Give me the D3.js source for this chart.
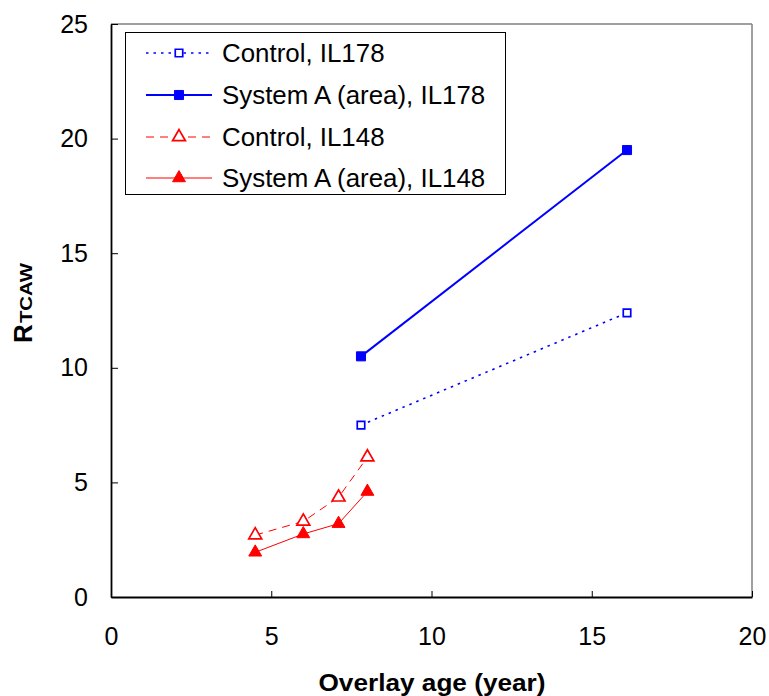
<!DOCTYPE html>
<html>
<head>
<meta charset="utf-8">
<script src="https://cdn.jsdelivr.net/npm/d3@7/dist/d3.min.js"></script>
<style>
  html, body { margin: 0; padding: 0; background: #fff; }
  svg { display: block; font-family: "Liberation Sans", Arial, sans-serif; }
</style>
</head>
<body>
<svg id="chart" width="769" height="696"></svg>
<script>
// Overlay age (years) and R_TCAW values per series
const ageIL178 = [7.8, 16.1];
const controlIL178 = [7.5, 12.4];
const systemAIL178 = [10.5, 19.5];

const ageIL148 = [4.5, 6.0, 7.1, 8.0];
const controlIL148 = [2.7, 3.3, 4.35, 6.1];
const systemAIL148 = [1.95, 2.75, 3.2, 4.6];

const xTicks = [0, 5, 10, 15, 20];
const yTicks = [0, 5, 10, 15, 20, 25];

const seriesNames = ["Control, IL178", "System A (area), IL178", "Control, IL148", "System A (area), IL148"];

const series = [
  { name: seriesNames[0], x: ageIL178, y: controlIL178, color: "#0000ff", dash: "2.5,5", width: 1.6, shape: "square", filled: false },
  { name: seriesNames[1], x: ageIL178, y: systemAIL178, color: "#0000ff", dash: null, width: 2, shape: "square", filled: true },
  { name: seriesNames[2], x: ageIL148, y: controlIL148, color: "#ff0000", dash: "8,6", width: 1, shape: "triangle", filled: false },
  { name: seriesNames[3], x: ageIL148, y: systemAIL148, color: "#ff0000", dash: null, width: 1, shape: "triangle", filled: true }
];

const svg = d3.select("#chart");
const plotLeft = 111, plotRight = 752, plotTop = 24, plotBottom = 597;

const x = d3.scaleLinear().domain([0, 20]).range([plotLeft, plotRight]);
const y = d3.scaleLinear().domain([0, 25]).range([plotBottom, plotTop]);

// frame: top and right edges in grey
svg.append("line").attr("x1", plotLeft).attr("x2", plotRight).attr("y1", plotTop).attr("y2", plotTop)
  .attr("stroke", "#808080").attr("stroke-width", 1.5);
svg.append("line").attr("x1", plotRight).attr("x2", plotRight).attr("y1", plotTop).attr("y2", plotBottom)
  .attr("stroke", "#808080").attr("stroke-width", 1.5);

// axes with inward ticks
const xAxis = svg.append("g").attr("transform", `translate(0,${plotBottom})`)
  .call(d3.axisBottom(x).tickValues(xTicks).tickSize(-6).tickPadding(30).tickSizeOuter(0));
const yAxis = svg.append("g").attr("transform", `translate(${plotLeft},0)`)
  .call(d3.axisLeft(y).tickValues(yTicks).tickSize(-7).tickPadding(23).tickSizeOuter(0));

[xAxis, yAxis].forEach(g => {
  g.select(".domain").attr("stroke", "#000").attr("stroke-width", 1.8);
  g.selectAll(".tick line").attr("stroke", "#000").attr("stroke-width", 1);
  g.selectAll(".tick text").attr("font-size", 25).attr("fill", "#000")
    .attr("font-family", "'Liberation Sans', Arial, sans-serif");
});
xAxis.selectAll(".tick text").attr("dy", "0.71em");

// axis titles
svg.append("text").attr("x", 432).attr("y", 691)
  .attr("text-anchor", "middle").attr("font-size", 23).attr("font-weight", "bold")
  .attr("textLength", 227).attr("lengthAdjust", "spacingAndGlyphs")
  .text("Overlay age (year)");

const yTitle = svg.append("text")
  .attr("transform", "translate(32,303) rotate(-90)")
  .attr("text-anchor", "middle").attr("font-weight", "bold");
yTitle.append("tspan").attr("font-size", 26).text("R");
yTitle.append("tspan").attr("font-size", 16).attr("dx", 1)
  .attr("textLength", 60).attr("lengthAdjust", "spacingAndGlyphs").text("TCAW");

const sym = d3.symbol();
function markerPath(shape, size) {
  return shape === "square"
    ? sym.type(d3.symbolSquare).size(size)()
    : sym.type(d3.symbolTriangle).size(size)();
}
function drawMarker(g, s, cx, cy) {
  const size = s.shape === "square" ? (s.filled ? 82 : 56) : 72;
  g.append("path")
    .attr("d", markerPath(s.shape, size))
    .attr("transform", `translate(${cx},${cy})`)
    .attr("fill", s.filled ? s.color : "#fff")
    .attr("stroke", s.color)
    .attr("stroke-width", s.filled ? 1 : 1.7);
}

// series lines and markers
const line = d3.line().x(d => x(d[0])).y(d => y(d[1]));
series.forEach(s => {
  const pts = s.x.map((v, i) => [v, s.y[i]]);
  svg.append("path").datum(pts)
    .attr("d", line).attr("fill", "none")
    .attr("stroke", s.color).attr("stroke-width", s.width)
    .attr("stroke-dasharray", s.dash);
  const g = svg.append("g");
  pts.forEach(p => drawMarker(g, s, x(p[0]), y(p[1])));
});

// legend
const lg = svg.append("g");
lg.append("rect").attr("x", 125.5).attr("y", 32.5).attr("width", 380).attr("height", 162)
  .attr("fill", "#fff").attr("stroke", "#000").attr("stroke-width", 1);
const rowY = [53, 95, 137, 178];
series.forEach((s, i) => {
  const cy = rowY[i];
  lg.append("line").attr("x1", 146).attr("x2", 212).attr("y1", cy).attr("y2", cy)
    .attr("stroke", s.color).attr("stroke-width", s.width).attr("stroke-dasharray", s.dash);
  drawMarker(lg, s, 179, cy);
  const t = lg.append("text").attr("x", 222).attr("y", cy).attr("dy", "0.36em")
    .attr("font-size", 25).attr("fill", "#000").text(s.name);
  // widen labels slightly to the legend's glyph spacing
  const w = t.node().getComputedTextLength();
  t.attr("textLength", w * 1.035).attr("lengthAdjust", "spacingAndGlyphs");
});
</script>
</body>
</html>
